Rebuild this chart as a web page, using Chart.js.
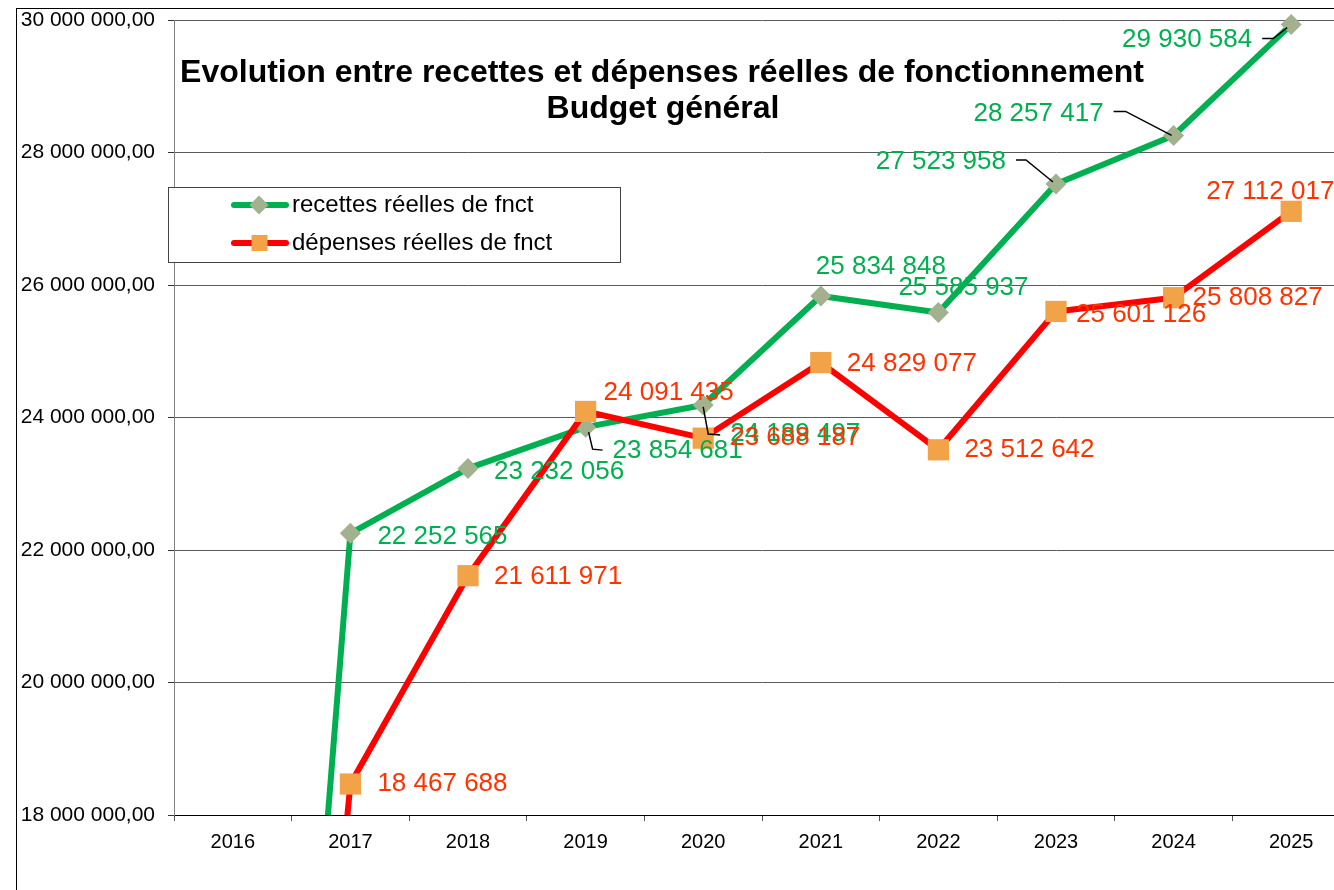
<!DOCTYPE html>
<html><head><meta charset="utf-8">
<script src="https://cdn.jsdelivr.net/npm/chart.js@4/dist/chart.umd.min.js"></script>
<style>
html,body{margin:0;padding:0;background:#fff}
#clip{position:relative;width:1334px;height:890px;overflow:hidden}
#wrap{position:absolute;left:0;top:0;width:1350px;height:890px}
canvas{display:block}
</style></head>
<body>
<div id="clip"><div id="wrap"><canvas id="c" width="1350" height="890" style="width:1350px;height:890px"></canvas></div></div>
<script>
// ---- data ----
const years = ['2016','2017','2018','2019','2020','2021','2022','2023','2024','2025'];
const recettes = [0, 22252565, 23232056, 23854681, 24189497, 25834848, 25585937, 27523958, 28257417, 29930584];
const depenses = [0, 18467688, 21611971, 24091435, 23688187, 24829077, 23512642, 25601126, 25808827, 27112017];
const seriesNames = ['recettes réelles de fnct', 'dépenses réelles de fnct'];
const titleLines = ['Evolution entre recettes et dépenses réelles de fonctionnement', 'Budget général'];
const yMin = 18000000, yMax = 30000000, yStep = 2000000;

// ---- styles ----
const FONT = '"Liberation Sans", Arial, sans-serif';
const GREEN = '#00b050', GREEN_MK = '#a2b18e', GREEN_TXT = '#00b050';
const RED = '#ff0000', RED_MK = '#f2a247', RED_TXT = '#ff3300';

// label placement relative to each point (pixels)
const greenLabelPos = {
  1:{dx:27,dy:4,align:'left'},
  2:{dx:26,dy:3,align:'left'},
  3:{dx:27,dy:24,align:'left',leader:[[3,5],[7,22],[17,23]]},
  4:{dx:27,dy:29,align:'left',leader:[[0,2],[5,29],[17,30]]},
  5:{dx:-5,dy:-29,align:'left'},
  6:{dx:-40,dy:-25,align:'left'},
  7:{dx:-50,dy:-22,align:'right',leader:[[-40,-24],[-30,-24],[-3,-2]]},
  8:{dx:-70,dy:-22,align:'right',leader:[[-60,-24],[-48,-24],[-2,0]]},
  9:{dx:-39,dy:15,align:'right',leader:[[-29,14],[-18,14],[-4,3]]}
};
const redLabelPos = {
  1:{dx:27,dy:0,align:'left'},
  2:{dx:26,dy:1,align:'left'},
  3:{dx:18,dy:-19,align:'left'},
  4:{dx:27,dy:0,align:'left'},
  5:{dx:26,dy:1,align:'left'},
  6:{dx:26,dy:0,align:'left'},
  7:{dx:20,dy:3,align:'left'},
  8:{dx:19,dy:0,align:'left'},
  9:{dx:-85,dy:-20,align:'left'}
};

function fmtThousands(v){ return Math.round(v).toString().replace(/\B(?=(\d{3})+(?!\d))/g, ' '); }

const labelsPlugin = {
  id: 'valueLabels',
  afterDatasetsDraw(chart){
    const ctx = chart.ctx;
    const sets = [
      {idx:0, pos:greenLabelPos, color:GREEN_TXT},
      {idx:1, pos:redLabelPos, color:RED_TXT}
    ];
    ctx.save();
    ctx.font = '26px ' + FONT;
    ctx.textBaseline = 'middle';
    sets.forEach(s => {
      const meta = chart.getDatasetMeta(s.idx);
      const vals = chart.data.datasets[s.idx].data;
      meta.data.forEach((pt, i) => {
        const p = s.pos[i];
        if (!p) return;
        if (p.leader){
          ctx.beginPath();
          ctx.strokeStyle = '#000';
          ctx.lineWidth = 1.5;
          p.leader.forEach((q, k) => { if (k===0) ctx.moveTo(pt.x+q[0], pt.y+q[1]); else ctx.lineTo(pt.x+q[0], pt.y+q[1]); });
          ctx.stroke();
        }
        ctx.fillStyle = s.color;
        ctx.textAlign = p.align;
        ctx.fillText(fmtThousands(vals[i]), pt.x + p.dx, pt.y + p.dy);
      });
    });
    ctx.restore();
  }
};

const framePlugin = {
  id: 'frame',
  beforeDraw(chart){
    const ctx = chart.ctx;
    ctx.save();
    ctx.fillStyle = '#fff';
    ctx.fillRect(0, 0, chart.width, chart.height);
    ctx.strokeStyle = '#000';
    ctx.lineWidth = 1;
    ctx.strokeRect(16.5, 8.5, 3000, 3000);
    ctx.restore();
  },
  afterDraw(chart){
    const ctx = chart.ctx;
    ctx.save();
    // title
    ctx.fillStyle = '#000';
    ctx.font = 'bold 32px ' + FONT;
    ctx.textAlign = 'center';
    ctx.textBaseline = 'middle';
    ctx.fillText(titleLines[0], 662, 73);
    ctx.fillText(titleLines[1], 663, 109);
    // legend
    ctx.fillStyle = '#fff';
    ctx.fillRect(168.5, 187.5, 452, 75);
    ctx.strokeStyle = '#444';
    ctx.lineWidth = 1;
    ctx.strokeRect(168.5, 187.5, 452, 75);
    const items = [
      {y:205, line:GREEN, mk:GREEN_MK, style:'diamond', text:seriesNames[0]},
      {y:243, line:RED, mk:RED_MK, style:'square', text:seriesNames[1]}
    ];
    items.forEach(it => {
      ctx.beginPath();
      ctx.strokeStyle = it.line;
      ctx.lineWidth = 6;
      ctx.lineCap = 'round';
      ctx.moveTo(234, it.y); ctx.lineTo(286, it.y);
      ctx.stroke();
      ctx.fillStyle = it.mk;
      ctx.beginPath();
      if (it.style === 'diamond'){
        ctx.moveTo(259, it.y-9.5); ctx.lineTo(268.5, it.y); ctx.lineTo(259, it.y+9.5); ctx.lineTo(249.5, it.y); ctx.closePath();
      } else {
        ctx.rect(251.5, it.y-8, 16, 16);
      }
      ctx.fill();
      ctx.fillStyle = '#000';
      ctx.font = '24px ' + FONT;
      ctx.textAlign = 'left';
      ctx.textBaseline = 'middle';
      ctx.fillText(it.text, 292, it.y);
    });
    ctx.restore();
  }
};

Chart.defaults.font.family = FONT;

new Chart(document.getElementById('c'), {
  type: 'line',
  data: {
    labels: years,
    datasets: [
      {
        label: seriesNames[0], data: recettes, order: 1,
        borderColor: GREEN, borderWidth: 6, tension: 0,
        borderJoinStyle: 'round',
        pointStyle: 'rectRot', pointRadius: 10.5, pointBackgroundColor: GREEN_MK,
        pointBorderColor: GREEN_MK, pointBorderWidth: 0,
        clip: {left: 20, top: 20, right: 20, bottom: 0}
      },
      {
        label: seriesNames[1], data: depenses, order: 0,
        borderColor: RED, borderWidth: 6, tension: 0,
        borderJoinStyle: 'round',
        pointStyle: 'rect', pointRadius: 15, pointBackgroundColor: RED_MK,
        pointBorderColor: RED_MK, pointBorderWidth: 0,
        clip: {left: 20, top: 20, right: 20, bottom: 0}
      }
    ]
  },
  options: {
    responsive: false,
    animation: false,
    devicePixelRatio: 1,
    layout: {autoPadding: false, padding: {top: 20, left: 0, right: 0, bottom: 0}},
    plugins: {legend: {display: false}, title: {display: false}, tooltip: {enabled: false}},
    scales: {
      x: {
        offset: true,
        grid: {offset: true, drawOnChartArea: false, drawTicks: true, tickLength: 6, color: '#555'},
        border: {color: '#000', width: 1},
        ticks: {font: {size: 20}, color: '#000', padding: 9, maxRotation: 0, autoSkip: false},
        afterFit(s){ s.height = 75; s.paddingLeft = 0; s.paddingRight = 0; }
      },
      y: {
        min: yMin, max: yMax,
        ticks: {stepSize: yStep, font: {size: 21}, color: '#000', padding: 13,
                callback: v => fmtThousands(v) + ',00'},
        grid: {color: c => (c.tick && c.tick.value === yMin) ? '#000' : '#5a5a5a', tickLength: 6, drawTicks: true, tickColor: '#333'},
        border: {color: '#808080', width: 1},
        afterFit(s){ s.width = 174; s.paddingTop = 0; s.paddingBottom = 0; }
      }
    }
  },
  plugins: [framePlugin, labelsPlugin]
});
</script>
</body></html>
